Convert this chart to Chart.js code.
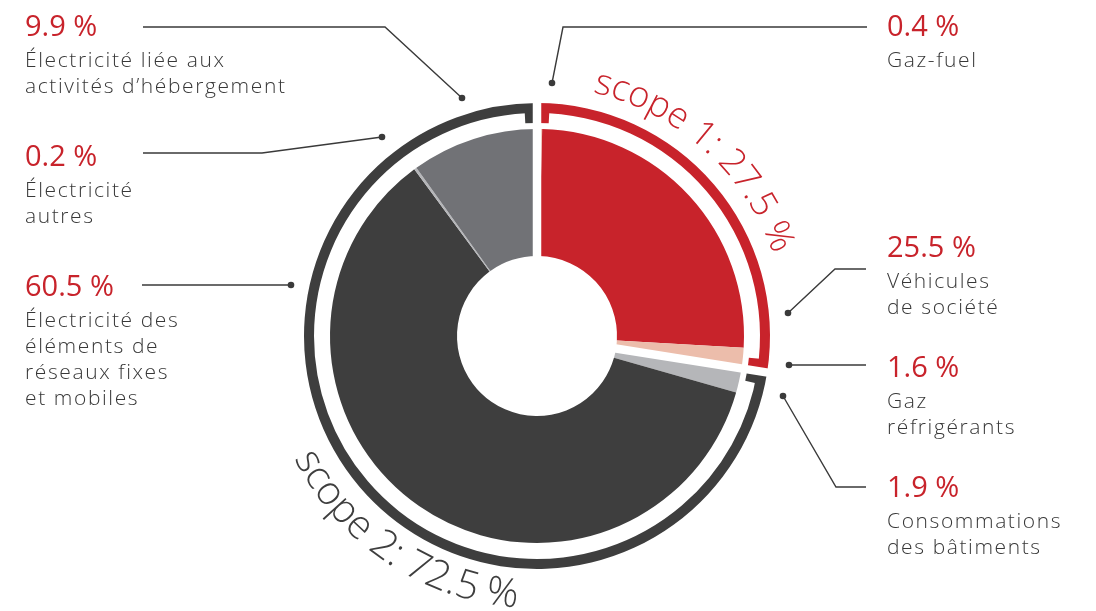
<!DOCTYPE html>
<html>
<head>
<meta charset="utf-8">
<script src="https://cdn.jsdelivr.net/npm/chart.js@4.4.0/dist/chart.umd.min.js"></script>
<style>
html,body{margin:0;padding:0;background:#fff;}
#wrap{position:relative;width:1096px;height:611px;}
</style>
</head>
<body>
<div id="wrap"><canvas id="c" width="1096" height="611"></canvas></div>
<script>
// ---- data ----
const categories = ['Gaz-fuel', 'Véhicules de société', 'Gaz réfrigérants', 'Consommations des bâtiments',
  'Électricité des éléments de réseaux fixes et mobiles', 'Électricité autres', 'Électricité liée aux activités d’hébergement'];
const categoryLines = [['Gaz-fuel'], ['Véhicules', 'de société'], ['Gaz', 'réfrigérants'], ['Consommations', 'des bâtiments'],
  ['Électricité des', 'éléments de', 'réseaux fixes', 'et mobiles'], ['Électricité', 'autres'], ['Électricité liée aux', 'activités d’hébergement']];
const values = [0.4, 25.5, 1.6, 1.9, 60.5, 0.2, 9.9];
const scopeLabels = ['scope 1', 'scope 2'];
const scopeValues = [27.5, 72.5];

// ---- styles ----
const sliceColors = ['#ECBDAB', '#C8232B', '#ECBDAB', '#B5B6B9', '#3E3E3E', '#B5B6B9', '#717276'];
const scopeColors = ['#C8232B', '#3E3E3E'];
const RED = '#C8232B';
const TEXT = '#383838';
const LINE = '#3a3a3a';
const GAP = 8.5;
const BRACKET_DEPTH = 10;
const BRACKET_LEN = 8;

// ---- layout (label positions and leader lines, in pixels) ----
const callouts = [
  {i: 0, x: 887, y: 36,  path: [[552, 83], [563, 27], [867, 27]]},
  {i: 1, x: 887, y: 257, path: [[788, 313], [835, 269], [866, 269]]},
  {i: 2, x: 887, y: 377, path: [[789, 365], [866, 365]]},
  {i: 3, x: 887, y: 497, path: [[783, 396], [836, 487], [866, 487]]},
  {i: 4, x: 25,  y: 296, path: [[291, 285], [142, 285]]},
  {i: 5, x: 25,  y: 166, path: [[382, 137], [262, 153], [143, 153]]},
  {i: 6, x: 25,  y: 36,  path: [[462, 98], [385, 27], [143, 27]]}
];
// curved scope titles: angles (deg, clockwise from top) of first/last glyph centres, baseline radius
const scopeText = [
  {from: 14.8, to: 67.6, r: 250, dir: 1},
  {from: 241.3, to: 187.6, r: 272, dir: -1}
];

function fmt(v) { return v.toFixed(1) + ' %'; }

const LABEL_FONT = '300 21px "Open Sans"';
const VALUE_FONT = '400 29px "Open Sans"';

function arcText(ctx, text, cx, cy, t) {
  const chars = Array.from(text);
  ctx.font = '300 100px "Open Sans"';
  const w100 = chars.map(c => ctx.measureText(c).width);
  const total100 = w100.reduce((a, b) => a + b, 0);
  const span100 = total100 - w100[0] / 2 - w100[w100.length - 1] / 2;
  const spanPx = Math.abs(t.to - t.from) * Math.PI / 180 * t.r;
  const size = 100 * spanPx / span100;
  const k = size / 100;
  ctx.font = '300 ' + size.toFixed(2) + 'px "Open Sans"';
  ctx.textAlign = 'center';
  ctx.textBaseline = 'alphabetic';
  let th = t.from * Math.PI / 180 - t.dir * (w100[0] * k / 2) / t.r;
  chars.forEach((c, idx) => {
    const w = w100[idx] * k;
    const tc = th + t.dir * (w / 2) / t.r;
    ctx.save();
    ctx.translate(cx + t.r * Math.sin(tc), cy - t.r * Math.cos(tc));
    ctx.rotate(t.dir > 0 ? tc : tc - Math.PI);
    ctx.fillText(c, 0, 0);
    ctx.restore();
    th += t.dir * w / t.r;
  });
}

const overlay = {
  id: 'overlay',
  afterDatasetsDraw(chart) {
    const ctx = chart.ctx;
    const ring = chart.getDatasetMeta(0).data;
    const cx = ring[0].x, cy = ring[0].y;
    ctx.save();
    // bracket ends of the scope rings
    ring.forEach((a, k) => {
      ctx.fillStyle = scopeColors[k];
      const rIn = a.innerRadius - BRACKET_DEPTH, rOut = a.innerRadius + 1;
      const dA = (GAP / 2 + BRACKET_LEN) / a.innerRadius;
      [[a.startAngle, a.startAngle + dA], [a.endAngle - dA, a.endAngle]].forEach(([s, e]) => {
        ctx.beginPath();
        ctx.arc(cx, cy, rOut, s, e);
        ctx.arc(cx, cy, rIn, e, s, true);
        ctx.closePath();
        ctx.fill();
      });
    });
    // white separators between scopes
    ctx.strokeStyle = '#fff';
    ctx.lineWidth = GAP;
    ctx.lineCap = 'butt';
    ring.forEach(a => {
      const R = a.outerRadius + 4;
      ctx.beginPath();
      ctx.moveTo(cx, cy);
      ctx.lineTo(cx + Math.cos(a.startAngle) * R, cy + Math.sin(a.startAngle) * R);
      ctx.stroke();
    });
    // curved scope titles
    scopeText.forEach((t, k) => {
      ctx.fillStyle = scopeColors[k];
      arcText(ctx, scopeLabels[k] + ': ' + fmt(scopeValues[k]), cx, cy, t);
    });
    // callouts
    ctx.strokeStyle = LINE;
    ctx.fillStyle = LINE;
    ctx.lineWidth = 1.4;
    callouts.forEach(c => {
      ctx.beginPath();
      c.path.forEach((p, j) => j ? ctx.lineTo(p[0], p[1]) : ctx.moveTo(p[0], p[1]));
      ctx.stroke();
      ctx.beginPath();
      ctx.arc(c.path[0][0], c.path[0][1], 3.3, 0, Math.PI * 2);
      ctx.fill();
    });
    ctx.textAlign = 'left';
    ctx.textBaseline = 'alphabetic';
    callouts.forEach(c => {
      ctx.font = VALUE_FONT;
      ctx.fillStyle = RED;
      ctx.letterSpacing = '0px';
      ctx.fillText(fmt(values[c.i]), c.x, c.y);
      ctx.font = LABEL_FONT;
      ctx.fillStyle = TEXT;
      ctx.letterSpacing = '1.6px';
      categoryLines[c.i].forEach((l, j) => ctx.fillText(l, c.x, c.y + 31 + j * 26));
      ctx.letterSpacing = '0px';
    });
    ctx.restore();
  }
};

new Chart(document.getElementById('c'), {
  type: 'doughnut',
  data: {
    labels: categories,
    datasets: [
      {label: 'scopes', data: scopeValues, backgroundColor: scopeColors, borderWidth: 0, weight: 10},
      {label: 'spacer', data: [1], backgroundColor: ['rgba(0,0,0,0)'], borderWidth: 0, weight: 16},
      {label: 'émissions', data: values, backgroundColor: sliceColors, borderWidth: 0, weight: 127}
    ]
  },
  options: {
    responsive: false,
    animation: false,
    radius: 233,
    cutout: '34.33%',
    layout: {padding: {left: 0, right: 22, top: 61, bottom: 0}},
    events: [],
    plugins: {legend: {display: false}, tooltip: {enabled: false}}
  },
  plugins: [overlay]
});
</script>
</body>
</html>
